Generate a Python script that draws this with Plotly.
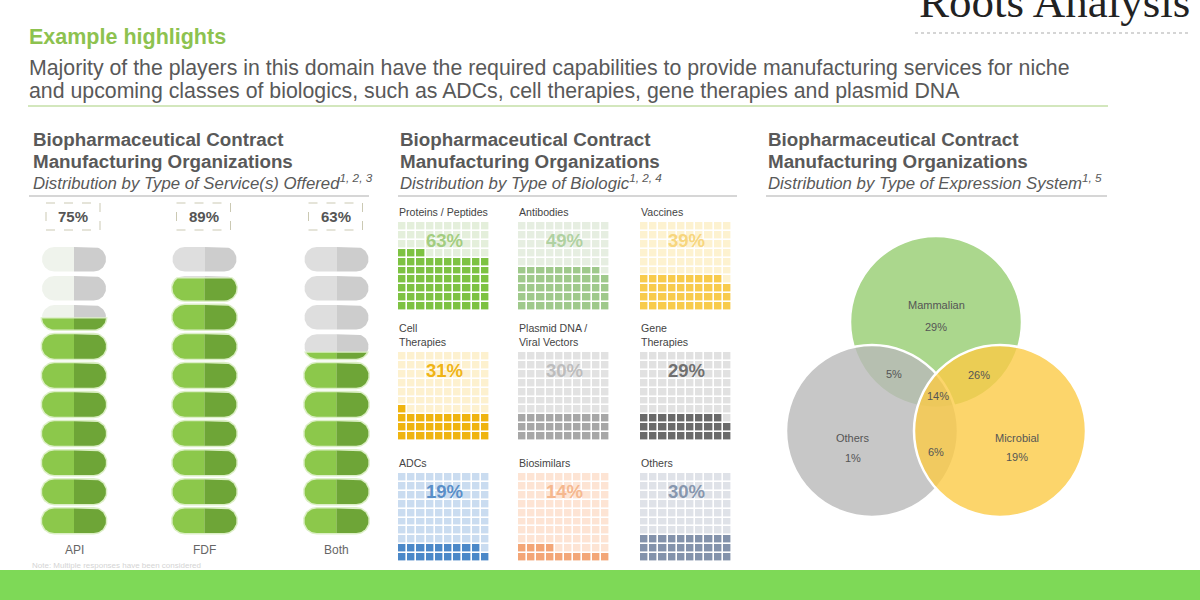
import numpy as np
import plotly.graph_objects as go

# ---------------- data ----------------
service_categories = ["API", "FDF", "Both"]
service_pct = [75, 89, 63]

biologic_types = ["Proteins / Peptides", "Antibodies", "Vaccines",
                  "Cell<br>Therapies", "Plasmid DNA /<br>Viral Vectors", "Gene<br>Therapies",
                  "ADCs", "Biosimilars", "Others"]
biologic_pct = [63, 49, 39, 31, 30, 29, 19, 14, 30]

expression_sets = ["Mammalian", "Others", "Microbial"]
expression_only_pct = [29, 1, 19]
overlap_names = ["Mammalian & Others", "Mammalian & Microbial", "Others & Microbial", "All three"]
overlap_pct = [5, 26, 6, 14]

# ---------------- styles ----------------
FONT = "Liberation Sans, Arial, sans-serif"
TXT = "#595959"
W, H = 1200, 600

fig = go.Figure()
layout = dict(
    width=W, height=H, margin=dict(l=0, r=0, t=0, b=0),
    paper_bgcolor="white", plot_bgcolor="white", showlegend=False,
    xaxis=dict(range=[0, W], visible=False, domain=[0, 1], fixedrange=True),
    yaxis=dict(range=[H, 0], visible=False, domain=[0, 1], fixedrange=True),
    font=dict(family=FONT, color=TXT),
)
shapes = []
annots = []


def ann(x, y, text, size, color=TXT, xanchor="left", family=FONT, yanchor="middle"):
    annots.append(dict(x=x, y=y, xref="x", yref="y", text=text, showarrow=False,
                       xanchor=xanchor, yanchor=yanchor, align=xanchor if xanchor != "center" else "center",
                       font=dict(size=size, color=color, family=family)))


# ---------------- header ----------------
ann(27, 37, "<b>Example highlights</b>", 21.5, "#8dc24f")
ann(27, 68, "Majority of the players in this domain have the required capabilities to provide manufacturing services for niche", 21.3)
ann(27, 91, "and upcoming classes of biologics, such as ADCs, cell therapies, gene therapies and plasmid DNA", 21.3)
shapes.append(dict(type="line", xref="x", yref="y", x0=28, x1=1108, y0=106, y1=106,
                   line=dict(color="#d3e7bd", width=2)))
ann(1192, 2, "Roots Analysis", 45, "#222222", xanchor="right", family="Liberation Serif, DejaVu Serif, serif")
shapes.append(dict(type="line", xref="x", yref="y", x0=915, x1=1188, y0=33, y1=33,
                   line=dict(color="#c8c8c8", width=1.5, dash="dot")))

# ---------------- panel headers ----------------
subtitles = ["Distribution by Type of Service(s) Offered<sup>1, 2, 3</sup>",
             "Distribution by Type of Biologic<sup>1, 2, 4</sup>",
             "Distribution by Type of Expression System<sup>1, 5</sup>"]
panel_x = [31, 398, 766]
panel_line = [(29, 369), (398, 737), (766, 1107)]
for px, sub, (l0, l1) in zip(panel_x, subtitles, panel_line):
    ann(px, 139, "<b>Biopharmaceutical Contract</b>", 18.8)
    ann(px, 161, "<b>Manufacturing Organizations</b>", 18.8)
    ann(px, 182, "<i>" + sub + "</i>", 16.8)
    shapes.append(dict(type="line", xref="x", yref="y", x0=l0, x1=l1, y0=196, y1=196,
                       line=dict(color="#d6d6d6", width=2)))

# ---------------- pills (service type) ----------------
col_centers = [74, 204.5, 336.5]
pill_w, pill_h = 64, 24.5
col_top, col_bot = 247, 533
n_pills = 10
slot = (col_bot - col_top - pill_h) / (n_pills - 1)
green_l, green_r = "#8cc84b", "#6ea537"
gray_l = ["#eff3ec", "#dedede", "#dedede"]
gray_r = "#cdcdcd"


def arc(cx, cy, r, a0, a1, n=28):
    return [(cx + r * np.cos(a), cy + r * np.sin(a)) for a in np.linspace(a0, a1, n)]


def clip_below(poly, ymin):
    out = []
    n = len(poly)
    for i in range(n):
        p, q = poly[i], poly[(i + 1) % n]
        pin, qin = p[1] >= ymin, q[1] >= ymin
        if pin:
            out.append(p)
        if pin != qin:
            t = (ymin - p[1]) / (q[1] - p[1])
            out.append((p[0] + t * (q[0] - p[0]), ymin))
    return out


def poly_trace(poly, color, line_w=0, line_c=None):
    if len(poly) < 3:
        return
    xs = [p[0] for p in poly] + [poly[0][0]]
    ys = [p[1] for p in poly] + [poly[0][1]]
    fig.add_trace(go.Scatter(x=xs, y=ys, mode="lines", fill="toself", fillcolor=color,
                             line=dict(width=line_w, color=line_c or color), hoverinfo="skip"))


for ci, (cat, pct) in enumerate(zip(service_categories, service_pct)):
    xc = col_centers[ci]
    x0, x1 = xc - pill_w / 2, xc + pill_w / 2
    r = pill_h / 2
    fill_y = col_bot - pct / 100 * (col_bot - col_top)
    for k in range(n_pills):
        yc = col_top + k * slot + r
        left = arc(x0 + r, yc, r, 1.5 * np.pi, 0.5 * np.pi) + [(xc, yc + r), (xc, yc - r)]
        right = [(xc, yc - r)] + arc(x1 - r, yc, r, -0.5 * np.pi, 0.5 * np.pi) + [(xc, yc + r)]
        poly_trace(left, gray_l[ci])
        poly_trace(right, gray_r)
        if fill_y < yc + r:
            rr = r + 1.5
            halo = arc(x0 + r, yc, rr, 1.5 * np.pi, 0.5 * np.pi) + arc(x1 - r, yc, rr, 0.5 * np.pi, -0.5 * np.pi)
            halo = halo[::-1]
            poly_trace(clip_below(halo, max(fill_y - 1.2, yc - rr)), "#dcefc6")
            poly_trace(clip_below(left, fill_y), green_l)
            poly_trace(clip_below(right, fill_y), green_r)
    # percentage box
    shapes.append(dict(type="rect", xref="x", yref="y", x0=xc - 28, x1=xc + 26, y0=203, y1=230,
                       line=dict(color="#cbc9b3", width=1, dash="dash"), fillcolor="rgba(0,0,0,0)"))
    ann(xc - 1, 216.5, "<b>%d%%</b>" % pct, 15, "#555555", xanchor="center")
    ann(xc, 550, cat, 12, "#666666", xanchor="center")

# ---------------- waffles (biologic type) ----------------
w_cols = [398, 518, 640]
w_rows = [222, 352, 473]
ww, wh = 92, 89
w_fill = ["#7dc242", "#9fc98b", "#f8cb4c", "#efb40f", "#a7a7a7", "#6a6a6a", "#4b88c8", "#f3a677", "#8392ab"]
w_empty = ["#e4efdb", "#e6eee1", "#fdf2d0", "#fdf1cf", "#e2e2e2", "#e1e1e1", "#cadcf0", "#fde4d4", "#dfe2e8"]
w_text = ["#a3cd80", "#b0d1a1", "#f7d67e", "#efb416", "#bdbdbd", "#707070", "#5a8fc8", "#f5b88f", "#8797ae"]

for i, (name, pct) in enumerate(zip(biologic_types, biologic_pct)):
    gx, gy = w_cols[i % 3], w_rows[i // 3]
    z = np.zeros((10, 10))
    for k in range(pct):
        z[k // 10][k % 10] = 1
    ax = i + 2
    fig.add_trace(go.Heatmap(z=z, x=list(range(10)), y=list(range(10)),
                             colorscale=[[0, w_empty[i]], [1, w_fill[i]]], zmin=0, zmax=1,
                             showscale=False, xgap=1.6, ygap=1.6, hoverinfo="skip",
                             xaxis="x%d" % ax, yaxis="y%d" % ax))
    layout["xaxis%d" % ax] = dict(domain=[gx / W, (gx + ww) / W], range=[-0.5, 9.5], visible=False,
                                  anchor="y%d" % ax, fixedrange=True)
    layout["yaxis%d" % ax] = dict(domain=[1 - (gy + wh) / H, 1 - gy / H], range=[-0.5, 9.5], visible=False,
                                  anchor="x%d" % ax, fixedrange=True)
    ann(gx - 1, gy - 2, name, 10.6, "#444444", yanchor="bottom")
    ann(gx + ww / 2, gy + 18, "<b>%d%%</b>" % pct, 18.5, w_text[i], xanchor="center")

# ---------------- venn (expression system) ----------------
circ = {"Mammalian": (936, 322, 86, "rgba(150,205,112,0.80)"),
        "Others": (872, 431, 86, "rgba(185,185,185,0.80)"),
        "Microbial": (1000, 431, 86, "rgba(251,203,70,0.80)")}
for nm in expression_sets:
    cx, cy, r, col = circ[nm]
    shapes.append(dict(type="circle", xref="x", yref="y", x0=cx - r, x1=cx + r, y0=cy - r, y1=cy + r,
                       fillcolor=col, line=dict(color="white", width=2.5), layer="above"))

only_pos = {"Mammalian": [(936, 305), (936, 327)],
            "Others": [(853, 438), (853, 458)],
            "Microbial": [(1017, 438), (1017, 457)]}
for nm, v in zip(expression_sets, expression_only_pct):
    (lx, ly), (vx, vy) = only_pos[nm]
    ann(lx, ly, nm, 11, "#555555", xanchor="center")
    ann(vx, vy, "%d%%" % v, 11, "#555555", xanchor="center")
ov_pos = [(894, 374), (979, 375), (936, 452), (938, 396)]
for (ox, oy), v in zip(ov_pos, overlap_pct):
    ann(ox, oy, "%d%%" % v, 11, "#555555", xanchor="center")

# ---------------- footer ----------------
ann(30, 565, "Note: Multiple responses have been considered", 8, "#d4d4d4")
shapes.append(dict(type="rect", xref="x", yref="y", x0=0, x1=W, y0=570, y1=600,
                   fillcolor="#7ed957", line=dict(width=0), layer="above"))

layout["shapes"] = shapes
layout["annotations"] = annots
fig.update_layout(**layout)
fig.write_html("out.html")
